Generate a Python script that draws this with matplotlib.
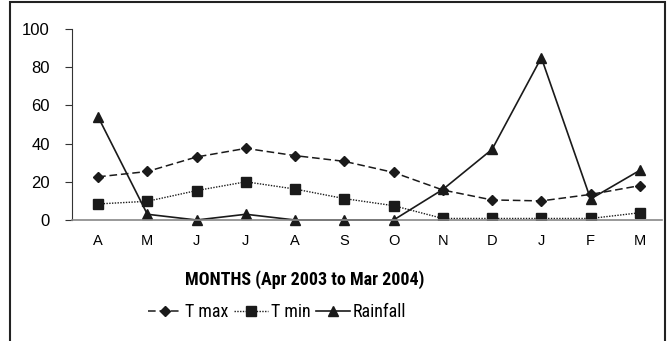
import matplotlib.pyplot as plt
from matplotlib.patches import Rectangle

months = ['A', 'M', 'J', 'J', 'A', 'S', 'O', 'N', 'D', 'J', 'F', 'M']
t_max = [22.6, 25.4, 33, 37.5, 33.7, 30.7, 24.9, 15.7, 10.5, 10, 13.4, 18]
t_min = [8.4, 9.8, 15.4, 20, 16.2, 11.2, 7.5, 0.8, 0.8, 0.8, 0.8, 3.8]
rainfall = [54, 3, 0, 3, 0, 0, 0, 16, 37, 85, 11, 26]

narrow = ['Roboto Condensed', 'PT Sans Narrow', 'Liberation Sans', 'DejaVu Sans']
plt.rcParams['font.family'] = ['Liberation Sans', 'DejaVu Sans']

fig = plt.figure(figsize=(6.67, 3.41), dpi=100)
ax = fig.add_axes([72/667, 1-220/341, 590/667, 191/341])

x = range(len(months))
ax.plot(x, t_max, color='#1a1a1a', ls=(0, (5, 2.5)), lw=1.1, marker='D', ms=5.5, label='T max')
ax.plot(x, t_min, color='#1a1a1a', ls=(0, (1, 1)), lw=1.0, marker='s', ms=7, label='T min')
ax.plot(x, rainfall, color='#1a1a1a', ls='-', lw=1.2, marker='^', ms=7, label='Rainfall', clip_on=False)

ax.set_ylim(0, 100)
ax.set_xlim(-0.53, 11.45)
ax.set_yticks([0, 20, 40, 60, 80, 100])
ax.set_xticks(list(x))
ax.set_xticklabels(months)
ax.tick_params(axis='x', length=0, pad=10, labelsize=10.5)
ax.tick_params(axis='y', length=5, direction='out', labelsize=12, pad=11, color='#333')
for s in ['top', 'right']:
    ax.spines[s].set_visible(False)
ax.spines['left'].set_color('#333')
ax.spines['bottom'].set_color('#888')
ax.spines['bottom'].set_linewidth(1.2)

fig.text(305/667, 1-280/341, 'MONTHS (Apr 2003 to Mar 2004)', ha='center', va='center',
         fontsize=13, fontweight='bold', family=narrow)

h, l = ax.get_legend_handles_labels()
fig.legend(h, l, loc='center', bbox_to_anchor=(277/667, 1-312/341), ncol=3, frameon=False,
           prop={'family': narrow, 'size': 13},
           handlelength=1.9, columnspacing=0.3, handletextpad=0.15)

fig.add_artist(Rectangle((10/667, -0.1), 655/667, 1.1 - 2/341, transform=fig.transFigure,
                         fill=False, ec='#222', lw=1.5))

fig.savefig('out.png', dpi=100)
